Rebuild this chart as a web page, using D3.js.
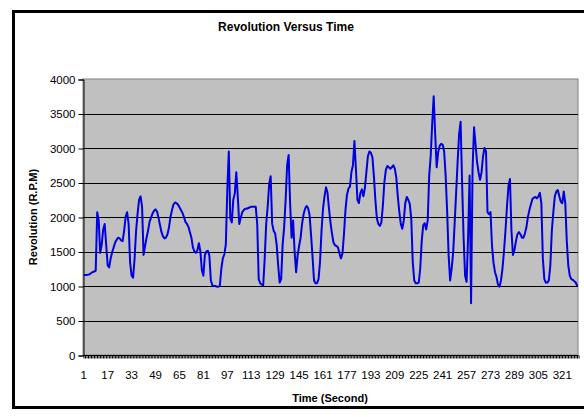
<!DOCTYPE html>
<html>
<head>
<meta charset="utf-8">
<script src="https://cdn.jsdelivr.net/npm/d3@7"></script>
<style>
  body { margin: 0; background: #fff; }
  svg text { font-family: Arial, "Liberation Sans", sans-serif; }
</style>
</head>
<body>
<div id="chart" style="width:584px;height:417px"></div>
<script>
// revolution (r.p.m) for each second, 1..331
const rpm = [
  1160,1160,1160,1165,1170,1190,1200,1210,1220,
  2070,1950,1480,1600,1820,1900,1600,1300,1270,1400,1490,
  1560,1630,1670,1700,1690,1660,1650,1800,2000,2070,
  1900,1340,1150,1120,1400,1800,2050,2250,2300,2150,
  1450,1580,1700,1800,1930,1990,2050,2090,2110,2080,
  1990,1880,1780,1720,1690,1700,1750,1850,2000,2100,
  2180,2210,2200,2180,2140,2100,2060,2000,1930,1900,
  1860,1780,1700,1560,1500,1480,1520,1620,1500,1230,
  1150,1450,1500,1510,1440,1080,1010,1000,1000,990,
  990,1000,1250,1400,1460,1600,2400,2950,1980,1920,
  2250,2340,2650,2300,1900,1990,2070,2100,2120,2120,
  2130,2140,2150,2150,2150,2150,1900,1100,1040,1020,
  1010,1400,1900,2150,2480,2590,1900,1800,1760,1600,
  1300,1050,1100,1600,1850,2250,2750,2900,2200,1700,
  1950,1500,1200,1440,1580,1700,1900,2040,2120,2160,
  2130,2030,1740,1420,1080,1040,1040,1100,1350,1800,
  2120,2300,2430,2350,2120,1920,1760,1630,1590,1580,
  1560,1470,1400,1470,1750,2100,2320,2410,2440,2650,
  2750,3100,2700,2250,2200,2350,2400,2300,2420,2650,
  2880,2950,2930,2870,2600,2250,1980,1900,1870,1920,
  2160,2500,2680,2740,2720,2700,2720,2750,2700,2570,
  2300,2080,1900,1830,1950,2200,2290,2250,2190,1980,
  1350,1080,1040,1040,1050,1250,1650,1880,1910,1820,
  1950,2600,2880,3350,3750,3200,2720,2940,3030,3060,
  3050,2950,2600,2080,1440,1080,1250,1480,1900,2350,
  2800,3200,3380,2500,1700,1150,1060,1700,2600,750,
  2700,3300,3050,2800,2650,2540,2650,2880,3000,2950,
  2070,2040,2070,1580,1340,1200,1130,1020,990,1080,
  1250,1500,1800,2150,2450,2550,1800,1450,1520,1650,
  1750,1780,1750,1700,1700,1760,1850,2000,2100,2180,
  2260,2280,2290,2270,2300,2350,2200,1400,1100,1050,
  1050,1080,1300,1800,2070,2300,2370,2390,2300,2220,
  2200,2370,2200,1650,1300,1150,1100,1090,1070,1050,1000
];
const seconds = rpm.map((d, i) => i + 1);
const xTickLabels = d3.range(1, 322, 16);   // 1, 17, 33 ... 321
const yTicks = [0, 500, 1000, 1500, 2000, 2500, 3000, 3500, 4000];

const W = 584, H = 417;
const plot = {l: 83, r: 578, t: 79, b: 355};

const scaleX = d3.scaleLinear().domain([0.5, seconds.length + 0.5]).range([plot.l, plot.r]);
const scaleY = d3.scaleLinear().domain([0, 4000]).range([plot.b, plot.t]);

const svg = d3.select('#chart').append('svg')
  .attr('width', W)
  .attr('height', H);

// chart frame
svg.append('rect')
  .attr('x', 13.5).attr('y', 11.5)
  .attr('width', 600).attr('height', 396)
  .style('fill', '#fff')
  .style('stroke', '#000')
  .style('stroke-width', 3);

// plot area
svg.append('rect')
  .attr('x', plot.l).attr('y', plot.t)
  .attr('width', plot.r - plot.l).attr('height', plot.b - plot.t)
  .style('fill', '#c0c0c0')
  .style('stroke', '#808080')
  .style('stroke-width', 1);

// gridlines
svg.append('g')
  .selectAll('line')
  .data(yTicks.filter(v => v > 0 && v < 4000))
  .join('line')
  .attr('x1', plot.l).attr('x2', plot.r)
  .attr('y1', d => Math.round(scaleY(d)) + 0.5)
  .attr('y2', d => Math.round(scaleY(d)) + 0.5)
  .style('stroke', '#000')
  .style('stroke-width', 1);

// y axis
const axisY = d3.axisLeft(scaleY)
  .tickValues(yTicks)
  .tickFormat(d3.format('d'))
  .tickSize(5)
  .tickPadding(3);
const gy = svg.append('g')
  .attr('transform', `translate(${plot.l + 0.5},0.5)`)
  .call(axisY);
gy.selectAll('text').style('font-size', '11.5px').style('fill', '#000');
gy.selectAll('line,path').style('stroke', '#000');

// x axis: a small tick between every second, label every 16
const axisX = d3.axisBottom(scaleX)
  .tickValues(d3.range(0.5, seconds.length + 1, 1))
  .tickSize(3)
  .tickFormat('');
const gx = svg.append('g')
  .attr('transform', `translate(0.5,${plot.b + 0.5})`)
  .call(axisX);
gx.select('.domain').attr('d', `M${plot.l},0H${plot.r}`);
gx.selectAll('line,path').style('stroke', '#000');

svg.append('g')
  .selectAll('text')
  .data(xTickLabels)
  .join('text')
  .attr('x', d => scaleX(d))
  .attr('y', 379)
  .attr('text-anchor', 'middle')
  .style('font-size', '11.5px')
  .text(d => d);

// line
const line = d3.line()
  .x((d, i) => scaleX(seconds[i]))
  .y(d => scaleY(d));

svg.append('path')
  .datum(rpm)
  .attr('d', line)
  .style('fill', 'none')
  .style('stroke', '#0000e0')
  .style('stroke-width', 2)
  .style('stroke-linejoin', 'round');

// titles
svg.append('text')
  .attr('x', 286).attr('y', 31)
  .attr('text-anchor', 'middle')
  .style('font-size', '12px')
  .style('font-weight', 'bold')
  .text('Revolution Versus Time');

svg.append('text')
  .attr('x', 330).attr('y', 402)
  .attr('text-anchor', 'middle')
  .style('font-size', '11px')
  .style('font-weight', 'bold')
  .text('Time (Second)');

svg.append('text')
  .attr('transform', 'translate(37,217) rotate(-90)')
  .attr('text-anchor', 'middle')
  .style('font-size', '11px')
  .style('font-weight', 'bold')
  .text('Revolution (R.P.M)');
</script>
</body>
</html>
